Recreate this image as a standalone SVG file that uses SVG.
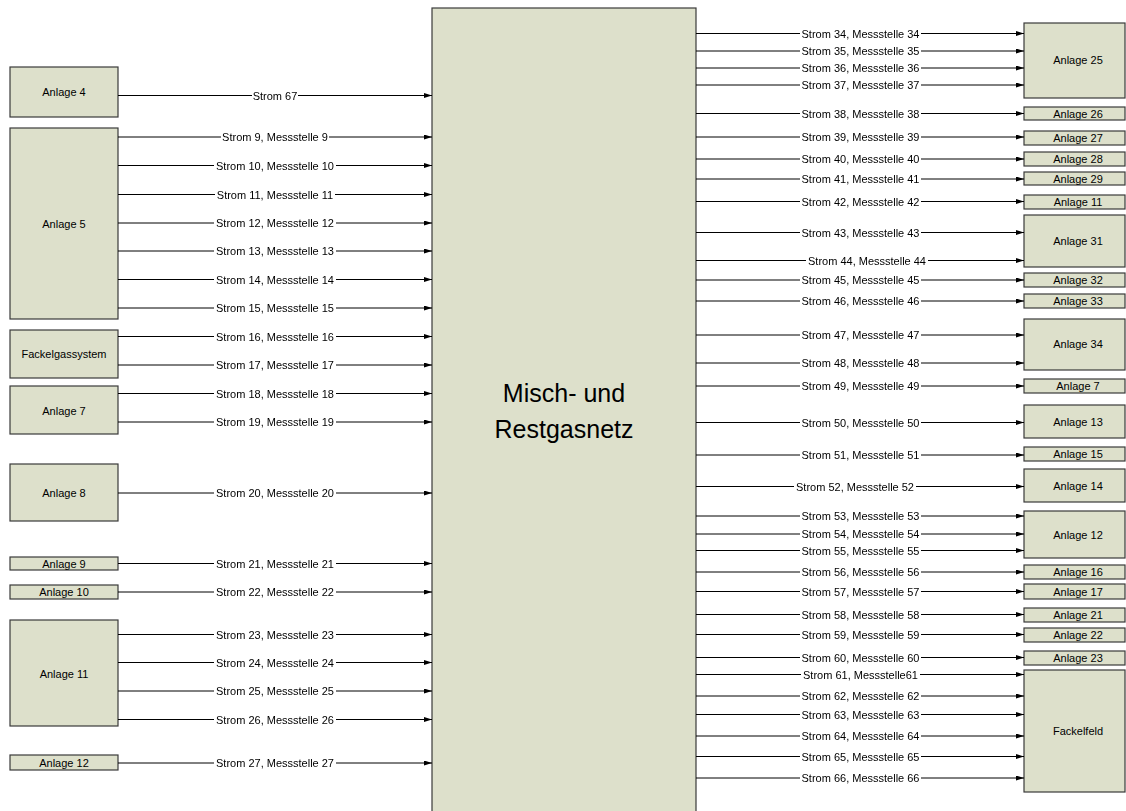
<svg xmlns="http://www.w3.org/2000/svg" width="1126" height="811" viewBox="0 0 1126 811">
  <style>
    .box { fill: #dde0cb; stroke: #3a3a3a; stroke-width: 1.2; }
    .lbl { font-family: "Liberation Sans", Arial, sans-serif; font-size: 11px; fill: #000; text-anchor: middle; }
    .big { font-family: "Liberation Sans", Arial, sans-serif; font-size: 25px; fill: #000; text-anchor: middle; }
    .flow { stroke: #000; stroke-width: 1; fill: none; marker-end: url(#arrow); }
    .flowlbl { font-family: "Liberation Sans", Arial, sans-serif; font-size: 11px; fill: #000; text-anchor: middle; filter: url(#labelbg); }
  </style>
  <defs>
    <marker id="arrow" markerUnits="userSpaceOnUse" markerWidth="9" markerHeight="6" refX="8" refY="2.5" orient="auto">
      <path d="M0,0 L8,2.5 L0,5 z" fill="#000"/>
    </marker>
    <!-- white plate behind stream labels so the line is interrupted -->
    <filter id="labelbg" x="-0.01" y="-0.05" width="1.02" height="1.1" color-interpolation-filters="sRGB">
      <feFlood flood-color="#fff"/>
      <feComposite in="SourceGraphic" operator="over"/>
    </filter>
  </defs>
  <rect width="1126" height="811" fill="#fff"/>

  <!-- central network -->
  <g id="netz">
    <rect class="box" x="432" y="8" width="264" height="820"/>
    <text class="big" x="564" y="402">Misch- und</text>
    <text class="big" x="564" y="438">Restgasnetz</text>
  </g>

  <!-- sources (left) -->
  <g id="anlage4"><rect class="box" x="10" y="67" width="108" height="50"/><text class="lbl" x="64" y="96">Anlage 4</text></g>
  <g id="anlage5"><rect class="box" x="10" y="128" width="108" height="191"/><text class="lbl" x="64" y="228">Anlage 5</text></g>
  <g id="fackelgassystem"><rect class="box" x="10" y="330" width="108" height="48"/><text class="lbl" x="64" y="358">Fackelgassystem</text></g>
  <g id="anlage7-in"><rect class="box" x="10" y="386" width="108" height="48"/><text class="lbl" x="64" y="415">Anlage 7</text></g>
  <g id="anlage8"><rect class="box" x="10" y="464" width="108" height="57"/><text class="lbl" x="64" y="497">Anlage 8</text></g>
  <g id="anlage9"><rect class="box" x="10" y="557" width="108" height="13"/><text class="lbl" x="64" y="567.5">Anlage 9</text></g>
  <g id="anlage10"><rect class="box" x="10" y="585" width="108" height="14"/><text class="lbl" x="64" y="596">Anlage 10</text></g>
  <g id="anlage11-in"><rect class="box" x="10" y="620" width="108" height="106"/><text class="lbl" x="64" y="678">Anlage 11</text></g>
  <g id="anlage12-in"><rect class="box" x="10" y="755" width="108" height="15"/><text class="lbl" x="64" y="766.5">Anlage 12</text></g>

  <!-- consumers (right) -->
  <g id="anlage25"><rect class="box" x="1024" y="23" width="101" height="75"/><text class="lbl" x="1078" y="64">Anlage 25</text></g>
  <g id="anlage26"><rect class="box" x="1024" y="107" width="101" height="13"/><text class="lbl" x="1078" y="117.5">Anlage 26</text></g>
  <g id="anlage27"><rect class="box" x="1024" y="131" width="101" height="14"/><text class="lbl" x="1078" y="142">Anlage 27</text></g>
  <g id="anlage28"><rect class="box" x="1024" y="152" width="101" height="14"/><text class="lbl" x="1078" y="163">Anlage 28</text></g>
  <g id="anlage29"><rect class="box" x="1024" y="172" width="101" height="13"/><text class="lbl" x="1078" y="182.5">Anlage 29</text></g>
  <g id="anlage11-out"><rect class="box" x="1024" y="195" width="101" height="14"/><text class="lbl" x="1078" y="206">Anlage 11</text></g>
  <g id="anlage31"><rect class="box" x="1024" y="215" width="101" height="52"/><text class="lbl" x="1078" y="245">Anlage 31</text></g>
  <g id="anlage32"><rect class="box" x="1024" y="273" width="101" height="14"/><text class="lbl" x="1078" y="284">Anlage 32</text></g>
  <g id="anlage33"><rect class="box" x="1024" y="294" width="101" height="14"/><text class="lbl" x="1078" y="305">Anlage 33</text></g>
  <g id="anlage34"><rect class="box" x="1024" y="319" width="101" height="51"/><text class="lbl" x="1078" y="348">Anlage 34</text></g>
  <g id="anlage7-out"><rect class="box" x="1024" y="379" width="101" height="14"/><text class="lbl" x="1078" y="390">Anlage 7</text></g>
  <g id="anlage13"><rect class="box" x="1024" y="405" width="101" height="33"/><text class="lbl" x="1078" y="426">Anlage 13</text></g>
  <g id="anlage15"><rect class="box" x="1024" y="447" width="101" height="14"/><text class="lbl" x="1078" y="458">Anlage 15</text></g>
  <g id="anlage14"><rect class="box" x="1024" y="469" width="101" height="33"/><text class="lbl" x="1078" y="490">Anlage 14</text></g>
  <g id="anlage12-out"><rect class="box" x="1024" y="511" width="101" height="47"/><text class="lbl" x="1078" y="539">Anlage 12</text></g>
  <g id="anlage16"><rect class="box" x="1024" y="565" width="101" height="14"/><text class="lbl" x="1078" y="576">Anlage 16</text></g>
  <g id="anlage17"><rect class="box" x="1024" y="584" width="101" height="15"/><text class="lbl" x="1078" y="595.5">Anlage 17</text></g>
  <g id="anlage21"><rect class="box" x="1024" y="608" width="101" height="14"/><text class="lbl" x="1078" y="619">Anlage 21</text></g>
  <g id="anlage22"><rect class="box" x="1024" y="628" width="101" height="14"/><text class="lbl" x="1078" y="639">Anlage 22</text></g>
  <g id="anlage23"><rect class="box" x="1024" y="651" width="101" height="14"/><text class="lbl" x="1078" y="662">Anlage 23</text></g>
  <g id="fackelfeld"><rect class="box" x="1024" y="670" width="101" height="122"/><text class="lbl" x="1078" y="735">Fackelfeld</text></g>

  <!-- streams -->
  <g id="connectors">
    <!-- inflows -->
    <path class="flow" d="M118,95.5 H432"/><text class="flowlbl" x="275" y="99.5">Strom 67</text>
    <path class="flow" d="M118,137 H432"/><text class="flowlbl" x="275" y="141">Strom 9, Messstelle 9</text>
    <path class="flow" d="M118,165.5 H432"/><text class="flowlbl" x="275" y="169.5">Strom 10, Messstelle 10</text>
    <path class="flow" d="M118,194.5 H432"/><text class="flowlbl" x="275" y="198.5">Strom 11, Messstelle 11</text>
    <path class="flow" d="M118,223 H432"/><text class="flowlbl" x="275" y="227">Strom 12, Messstelle 12</text>
    <path class="flow" d="M118,251 H432"/><text class="flowlbl" x="275" y="255">Strom 13, Messstelle 13</text>
    <path class="flow" d="M118,279.5 H432"/><text class="flowlbl" x="275" y="283.5">Strom 14, Messstelle 14</text>
    <path class="flow" d="M118,308 H432"/><text class="flowlbl" x="275" y="312">Strom 15, Messstelle 15</text>
    <path class="flow" d="M118,336.5 H432"/><text class="flowlbl" x="275" y="340.5">Strom 16, Messstelle 16</text>
    <path class="flow" d="M118,365 H432"/><text class="flowlbl" x="275" y="369">Strom 17, Messstelle 17</text>
    <path class="flow" d="M118,393.5 H432"/><text class="flowlbl" x="275" y="397.5">Strom 18, Messstelle 18</text>
    <path class="flow" d="M118,422 H432"/><text class="flowlbl" x="275" y="426">Strom 19, Messstelle 19</text>
    <path class="flow" d="M118,493 H432"/><text class="flowlbl" x="275" y="497">Strom 20, Messstelle 20</text>
    <path class="flow" d="M118,563.5 H432"/><text class="flowlbl" x="275" y="567.5">Strom 21, Messstelle 21</text>
    <path class="flow" d="M118,592 H432"/><text class="flowlbl" x="275" y="596">Strom 22, Messstelle 22</text>
    <path class="flow" d="M118,634.5 H432"/><text class="flowlbl" x="275" y="638.5">Strom 23, Messstelle 23</text>
    <path class="flow" d="M118,662.5 H432"/><text class="flowlbl" x="275" y="666.5">Strom 24, Messstelle 24</text>
    <path class="flow" d="M118,691 H432"/><text class="flowlbl" x="275" y="695">Strom 25, Messstelle 25</text>
    <path class="flow" d="M118,719.5 H432"/><text class="flowlbl" x="275" y="723.5">Strom 26, Messstelle 26</text>
    <path class="flow" d="M118,763 H432"/><text class="flowlbl" x="275" y="767">Strom 27, Messstelle 27</text>

    <!-- outflows -->
    <path class="flow" d="M696,33.5 H1024"/><text class="flowlbl" x="860.5" y="37.5">Strom 34, Messstelle 34</text>
    <path class="flow" d="M696,51 H1024"/><text class="flowlbl" x="860.5" y="55">Strom 35, Messstelle 35</text>
    <path class="flow" d="M696,68 H1024"/><text class="flowlbl" x="860.5" y="72">Strom 36, Messstelle 36</text>
    <path class="flow" d="M696,85 H1024"/><text class="flowlbl" x="860.5" y="89">Strom 37, Messstelle 37</text>
    <path class="flow" d="M696,113.5 H1024"/><text class="flowlbl" x="860.5" y="117.5">Strom 38, Messstelle 38</text>
    <path class="flow" d="M696,137 H1024"/><text class="flowlbl" x="860.5" y="141">Strom 39, Messstelle 39</text>
    <path class="flow" d="M696,159 H1024"/><text class="flowlbl" x="860.5" y="163">Strom 40, Messstelle 40</text>
    <path class="flow" d="M696,179 H1024"/><text class="flowlbl" x="860.5" y="183">Strom 41, Messstelle 41</text>
    <path class="flow" d="M696,201.5 H1024"/><text class="flowlbl" x="860.5" y="205.5">Strom 42, Messstelle 42</text>
    <path class="flow" d="M696,232.5 H1024"/><text class="flowlbl" x="860.5" y="236.5">Strom 43, Messstelle 43</text>
    <path class="flow" d="M696,260.5 H1024"/><text class="flowlbl" x="867" y="264.5">Strom 44, Messstelle 44</text>
    <path class="flow" d="M696,280 H1024"/><text class="flowlbl" x="860.5" y="284">Strom 45, Messstelle 45</text>
    <path class="flow" d="M696,301 H1024"/><text class="flowlbl" x="860.5" y="305">Strom 46, Messstelle 46</text>
    <path class="flow" d="M696,335 H1024"/><text class="flowlbl" x="860.5" y="339">Strom 47, Messstelle 47</text>
    <path class="flow" d="M696,363 H1024"/><text class="flowlbl" x="860.5" y="367">Strom 48, Messstelle 48</text>
    <path class="flow" d="M696,386 H1024"/><text class="flowlbl" x="860.5" y="390">Strom 49, Messstelle 49</text>
    <path class="flow" d="M696,422.5 H1024"/><text class="flowlbl" x="860.5" y="426.5">Strom 50, Messstelle 50</text>
    <path class="flow" d="M696,455 H1024"/><text class="flowlbl" x="860.5" y="459">Strom 51, Messstelle 51</text>
    <path class="flow" d="M696,486.5 H1024"/><text class="flowlbl" x="855" y="490.5">Strom 52, Messstelle 52</text>
    <path class="flow" d="M696,516 H1024"/><text class="flowlbl" x="860.5" y="520">Strom 53, Messstelle 53</text>
    <path class="flow" d="M696,534 H1024"/><text class="flowlbl" x="860.5" y="538">Strom 54, Messstelle 54</text>
    <path class="flow" d="M696,550.5 H1024"/><text class="flowlbl" x="860.5" y="554.5">Strom 55, Messstelle 55</text>
    <path class="flow" d="M696,572 H1024"/><text class="flowlbl" x="860.5" y="576">Strom 56, Messstelle 56</text>
    <path class="flow" d="M696,591.5 H1024"/><text class="flowlbl" x="860.5" y="595.5">Strom 57, Messstelle 57</text>
    <path class="flow" d="M696,614.5 H1024"/><text class="flowlbl" x="860.5" y="618.5">Strom 58, Messstelle 58</text>
    <path class="flow" d="M696,634.5 H1024"/><text class="flowlbl" x="860.5" y="638.5">Strom 59, Messstelle 59</text>
    <path class="flow" d="M696,657.5 H1024"/><text class="flowlbl" x="860.5" y="661.5">Strom 60, Messstelle 60</text>
    <path class="flow" d="M696,674.5 H1024"/><text class="flowlbl" x="860.5" y="678.5">Strom 61, Messstelle61</text>
    <path class="flow" d="M696,696 H1024"/><text class="flowlbl" x="860.5" y="700">Strom 62, Messstelle 62</text>
    <path class="flow" d="M696,714.5 H1024"/><text class="flowlbl" x="860.5" y="718.5">Strom 63, Messstelle 63</text>
    <path class="flow" d="M696,736 H1024"/><text class="flowlbl" x="860.5" y="740">Strom 64, Messstelle 64</text>
    <path class="flow" d="M696,756.5 H1024"/><text class="flowlbl" x="860.5" y="760.5">Strom 65, Messstelle 65</text>
    <path class="flow" d="M696,778 H1024"/><text class="flowlbl" x="860.5" y="782">Strom 66, Messstelle 66</text>
  </g>
</svg>
